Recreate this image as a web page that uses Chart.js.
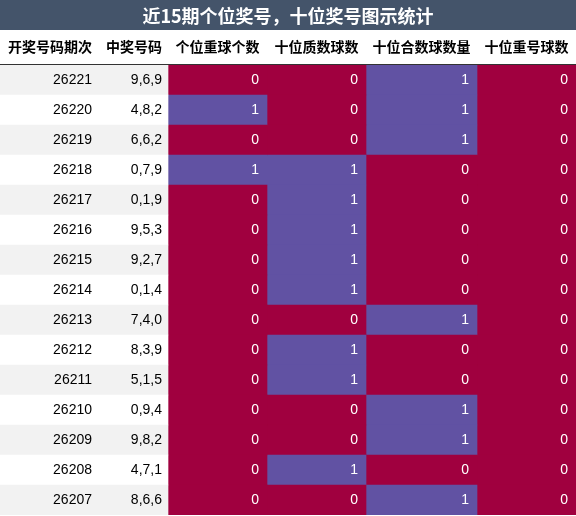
<!DOCTYPE html>
<html><head><meta charset="utf-8">
<script src="https://cdn.jsdelivr.net/npm/chart.js@4"></script>
<style>body{margin:0;background:#fff}canvas{display:block}</style>
</head><body>
<canvas id="c" width="576" height="516"></canvas>
<script>
const title = '近15期个位奖号，十位奖号图示统计';
const headers = ['开奖号码期次','中奖号码','个位重球个数','十位质数球数','十位合数球数量','十位重号球数'];
const issues = ['26221','26220','26219','26218','26217','26216','26215','26214','26213','26212','26211','26210','26209','26208','26207'];
const numbers = ['9,6,9','4,8,2','6,6,2','0,7,9','0,1,9','9,5,3','9,2,7','0,1,4','7,4,0','8,3,9','5,1,5','0,9,4','9,8,2','4,7,1','8,6,6'];
const geRepeat = [0,1,0,1,0,0,0,0,0,0,0,0,0,0,0];
const shiPrime = [0,0,0,1,1,1,1,1,0,1,1,0,0,1,0];
const shiComposite = [1,1,1,0,0,0,0,0,1,0,0,1,1,0,1];
const shiRepeat = [0,0,0,0,0,0,0,0,0,0,0,0,0,0,0];

const edges = [0,100,168,267,366,477,576];
const RED = '#a0003f', PURPLE = '#6152a3';
const valueCols = [geRepeat, shiPrime, shiComposite, shiRepeat];

const datasets = [];
// text column backgrounds
datasets.push({data: issues.map(()=>[edges[0],edges[2]]),
  backgroundColor: issues.map((_,i)=> i%2===0 ? '#f2f2f2' : '#ffffff')});
valueCols.forEach((arr,k)=>{
  datasets.push({data: arr.map(()=>[edges[k+2],edges[k+3]]),
    backgroundColor: arr.map(v=> v ? PURPLE : RED)});
});
datasets.forEach(d=>{d.barPercentage=1;d.categoryPercentage=1;d.borderWidth=0;d.grouped=false;});

const textPlugin = {
  id:'txt',
  afterDatasetsDraw(chart){
    const ctx = chart.ctx, y = chart.scales.y, x = chart.scales.x;
    ctx.save();
    // title bar
    ctx.fillStyle = '#44546a';
    ctx.fillRect(0,0,576,30);
    ctx.fillStyle = '#fff';
    ctx.font = 'bold 18px "Noto Sans CJK SC"';
    ctx.textAlign='center'; ctx.textBaseline='middle';
    ctx.fillText(title, 288, 16);
    // headers
    ctx.fillStyle = '#000';
    ctx.font = 'bold 14px "Noto Sans CJK SC"';
    headers.forEach((h,i)=>{
      ctx.fillText(h, (x.getPixelForValue(edges[i])+x.getPixelForValue(edges[i+1]))/2, 47);
    });
    ctx.strokeStyle='#333'; ctx.lineWidth=1;
    ctx.beginPath(); ctx.moveTo(0,64.5); ctx.lineTo(576,64.5); ctx.stroke();
    // rows
    ctx.font = '14px "Liberation Sans"';
    ctx.textAlign='right';
    issues.forEach((iss,i)=>{
      const py = y.getPixelForValue(i);
      ctx.fillStyle='#000';
      ctx.fillText(iss, x.getPixelForValue(edges[1])-8, py);
      ctx.fillText(numbers[i], x.getPixelForValue(edges[2])-6, py);
      ctx.fillStyle='#fff';
      valueCols.forEach((arr,k)=>{
        ctx.fillText(String(arr[i]), x.getPixelForValue(edges[k+3])-8, py);
      });
    });
    ctx.restore();
  }
};

new Chart(document.getElementById('c'), {
  type:'bar',
  data:{labels: issues, datasets},
  options:{
    indexAxis:'y', responsive:false, animation:false,
    layout:{padding:{top:65,left:0,right:0,bottom:1}},
    plugins:{legend:{display:false},tooltip:{enabled:false},title:{display:false}},
    scales:{
      x:{type:'linear',min:0,max:576,display:false},
      y:{display:false,offset:true}
    }
  },
  plugins:[textPlugin]
});
</script>
</body></html>
